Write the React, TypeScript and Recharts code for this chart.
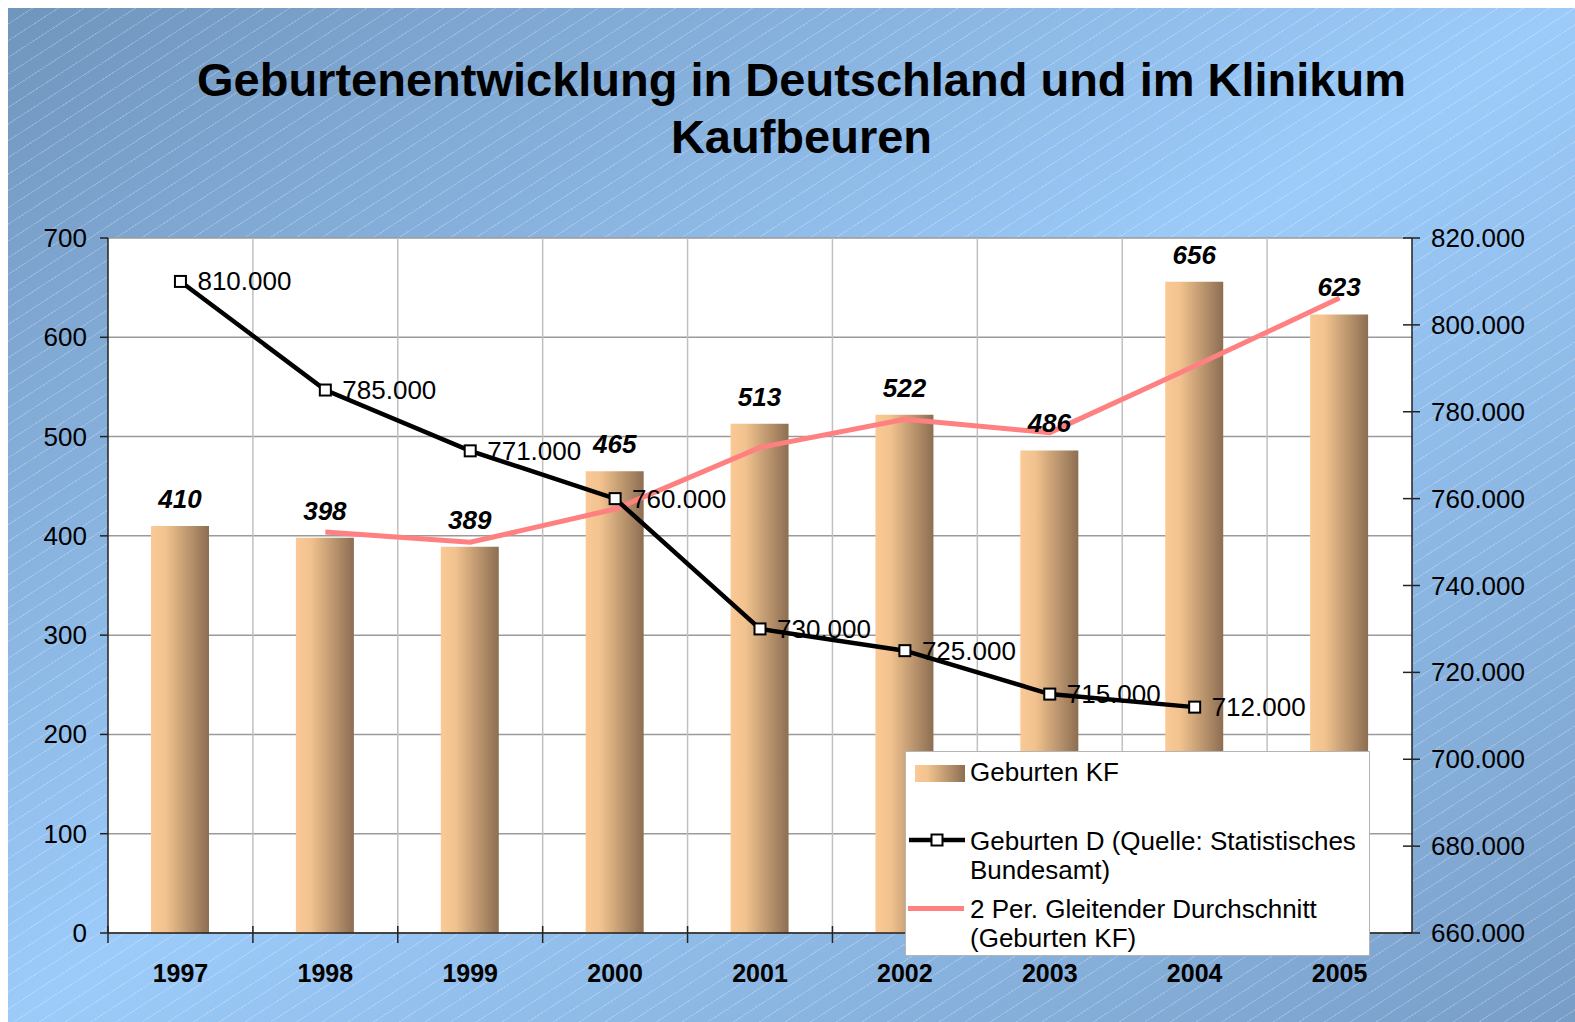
import React from 'react';
import { ComposedChart, Bar, Line, XAxis, YAxis, CartesianGrid, LabelList } from 'recharts';

// data
const years = ['1997', '1998', '1999', '2000', '2001', '2002', '2003', '2004', '2005'];
const birthsKF = [410, 398, 389, 465, 513, 522, 486, 656, 623];
const birthsD = [810000, 785000, 771000, 760000, 730000, 725000, 715000, 712000, null];
const movingAvgKF = [null, 404, 393.5, 427, 489, 517.5, 504, 571, 639.5];
const leftTicks = [0, 100, 200, 300, 400, 500, 600, 700];
const rightTicks = [660000, 680000, 700000, 720000, 740000, 760000, 780000, 800000, 820000];

const seriesNames = {
  kf: 'Geburten KF',
  d: ['Geburten D (Quelle: Statistisches', 'Bundesamt)'],
  avg: ['2 Per. Gleitender Durchschnitt', '(Geburten KF)'],
};

const data = years.map((y, i) => ({ year: y, kf: birthsKF[i], d: birthsD[i], avg: movingAvgKF[i] }));

const W = 1567;
const H = 1014;
const TOP = 230;
const LEFT_W = 100;
const RIGHT_W = 163;
const X_H = 89;
const PLOT_W = W - LEFT_W - RIGHT_W;
const BAND = PLOT_W / years.length;
const FONT = '"Liberation Sans", Arial, sans-serif';
const FS = 26;

const fmtDE = (v: number) => `${Math.floor(v / 1000)}.${String(v % 1000).padStart(3, '0')}`;

const XTick = (p: any) => {
  const bx = p.x - BAND / 2;
  return (
    <g>
      <line x1={bx} x2={bx} y1={p.y - 7} y2={p.y + 10} stroke="#222" strokeWidth={1.5} />
      <text x={p.x} y={p.y + 49} textAnchor="middle" fontWeight="bold" fontSize={25} fontFamily={FONT} fill="#000">
        {p.payload.value}
      </text>
    </g>
  );
};

const LeftTick = (p: any) => (
  <g>
    <line x1={p.x - 8} x2={p.x} y1={p.y} y2={p.y} stroke="#222" strokeWidth={1.5} />
    <text x={p.x - 21} y={p.y + 9} textAnchor="end" fontSize={FS} fontFamily={FONT} fill="#000">
      {p.payload.value}
    </text>
  </g>
);

const RightTick = (p: any) => (
  <g>
    <line x1={p.x - 9} x2={p.x + 8} y1={p.y} y2={p.y} stroke="#222" strokeWidth={1.5} />
    <text x={p.x + 19} y={p.y + 9} textAnchor="start" fontSize={FS} fontFamily={FONT} fill="#000">
      {fmtDE(p.payload.value)}
    </text>
  </g>
);

const SquareDot = (p: any) => {
  if (p.cx == null || p.cy == null || p.value == null) return null;
  return <rect key={p.index} x={p.cx - 5.5} y={p.cy - 5.5} width={11} height={11} fill="#fff" stroke="#000" strokeWidth={2} />;
};

const BarLabel = (p: any) => (
  <text x={p.x + p.width / 2} y={p.y - 18} textAnchor="middle" fontWeight="bold" fontStyle="italic" fontSize={FS} fontFamily={FONT} fill="#000">
    {p.value}
  </text>
);

const DLabel = (p: any) => {
  if (p.value == null) return null;
  return (
    <text x={p.x + 17} y={p.y + 9} textAnchor="start" fontSize={FS} fontFamily={FONT} fill="#000">
      {fmtDE(p.value)}
    </text>
  );
};

const Legend = () => {
  const txt: React.CSSProperties = { position: 'absolute', left: 64, fontSize: FS, lineHeight: '29px', fontFamily: FONT, color: '#000', whiteSpace: 'nowrap' };
  return (
    <div style={{ position: 'absolute', left: 897, top: 743, width: 465, height: 205, background: '#fff', border: '1px solid #b4b4b4', boxSizing: 'border-box' }}>
      <div style={{ position: 'absolute', left: 9, top: 13, width: 50, height: 17, background: 'linear-gradient(to right, #fac995 0%, #f2c38f 25%, #8c6e52 100%)' }} />
      <div style={{ ...txt, top: 6 }}>{seriesNames.kf}</div>
      <svg style={{ position: 'absolute', left: 2, top: 78 }} width={58} height={20}>
        <line x1={1} x2={57} y1={10} y2={10} stroke="#000" strokeWidth={4.5} />
        <rect x={23.5} y={4.5} width={11} height={11} fill="#fff" stroke="#000" strokeWidth={2} />
      </svg>
      <div style={{ ...txt, top: 75 }}>{seriesNames.d[0]}<br />{seriesNames.d[1]}</div>
      <div style={{ position: 'absolute', left: 2, top: 154, width: 56, height: 5, background: '#ff8080' }} />
      <div style={{ ...txt, top: 143 }}>{seriesNames.avg[0]}<br />{seriesNames.avg[1]}</div>
    </div>
  );
};

export default function App() {
  const vLines = Array.from({ length: years.length - 1 }, (_, i) => LEFT_W + (i + 1) * BAND);
  return (
    <div
      style={{
        position: 'fixed',
        left: 8,
        top: 8,
        width: W,
        height: H,
        overflow: 'hidden',
        background:
          'repeating-linear-gradient(147deg, rgba(255,255,255,0) 0px, rgba(255,255,255,0) 13px, rgba(255,255,255,0.22) 13px, rgba(255,255,255,0.22) 14px), linear-gradient(to bottom right, #7095bd 0%, #9ccbfa 50%, #789ec7 100%)',
      }}
    >
      <div style={{ position: 'absolute', left: 0, top: 43, width: W, paddingLeft: 20, boxSizing: 'border-box', textAlign: 'center', fontFamily: FONT, fontWeight: 'bold', fontSize: 47, lineHeight: '57px', color: '#000' }}>
        Geburtenentwicklung in Deutschland und im Klinikum
        <br />
        Kaufbeuren
      </div>
      <div style={{ position: 'absolute', left: 0, top: 0 }}>
        <ComposedChart width={W} height={H} data={data} margin={{ top: TOP, right: 0, bottom: 0, left: 0 }}>
          <defs>
            <linearGradient id="barGrad" x1="0" y1="0" x2="1" y2="0">
              <stop offset="0%" stopColor="#fac995" />
              <stop offset="25%" stopColor="#f2c38f" />
              <stop offset="100%" stopColor="#8c6e52" />
            </linearGradient>
          </defs>
          <CartesianGrid yAxisId="left" vertical={false} fill="#fff" stroke="#9a9a9a" strokeWidth={1.5} />
          <CartesianGrid yAxisId="left" horizontal={false} verticalCoordinatesGenerator={() => vLines} stroke="#c0c0c0" strokeWidth={1.5} />
          <XAxis dataKey="year" height={X_H} tickSize={0} tickMargin={0} tickLine={false} tick={<XTick />} axisLine={{ stroke: '#222', strokeWidth: 1.5 }} interval={0} />
          <YAxis yAxisId="left" width={LEFT_W} domain={[0, 700]} ticks={leftTicks} tickSize={0} tickMargin={0} tickLine={false} tick={<LeftTick />} axisLine={{ stroke: '#222', strokeWidth: 1.5 }} interval={0} />
          <YAxis yAxisId="right" orientation="right" width={RIGHT_W} domain={[660000, 820000]} ticks={rightTicks} tickSize={0} tickMargin={0} tickLine={false} tick={<RightTick />} axisLine={{ stroke: '#222', strokeWidth: 1.5 }} interval={0} />
          <Bar yAxisId="left" dataKey="kf" name={seriesNames.kf} barSize={58} fill="url(#barGrad)" isAnimationActive={false}>
            <LabelList dataKey="kf" content={<BarLabel />} />
          </Bar>
          <Line yAxisId="left" dataKey="avg" name={seriesNames.avg.join(' ')} stroke="#ff8080" strokeWidth={5} dot={false} activeDot={false} isAnimationActive={false} />
          <Line yAxisId="right" dataKey="d" name={seriesNames.d.join(' ')} stroke="#000" strokeWidth={4.5} dot={<SquareDot />} activeDot={false} isAnimationActive={false}>
            <LabelList dataKey="d" content={<DLabel />} />
          </Line>
        </ComposedChart>
      </div>
      <Legend />
    </div>
  );
}
